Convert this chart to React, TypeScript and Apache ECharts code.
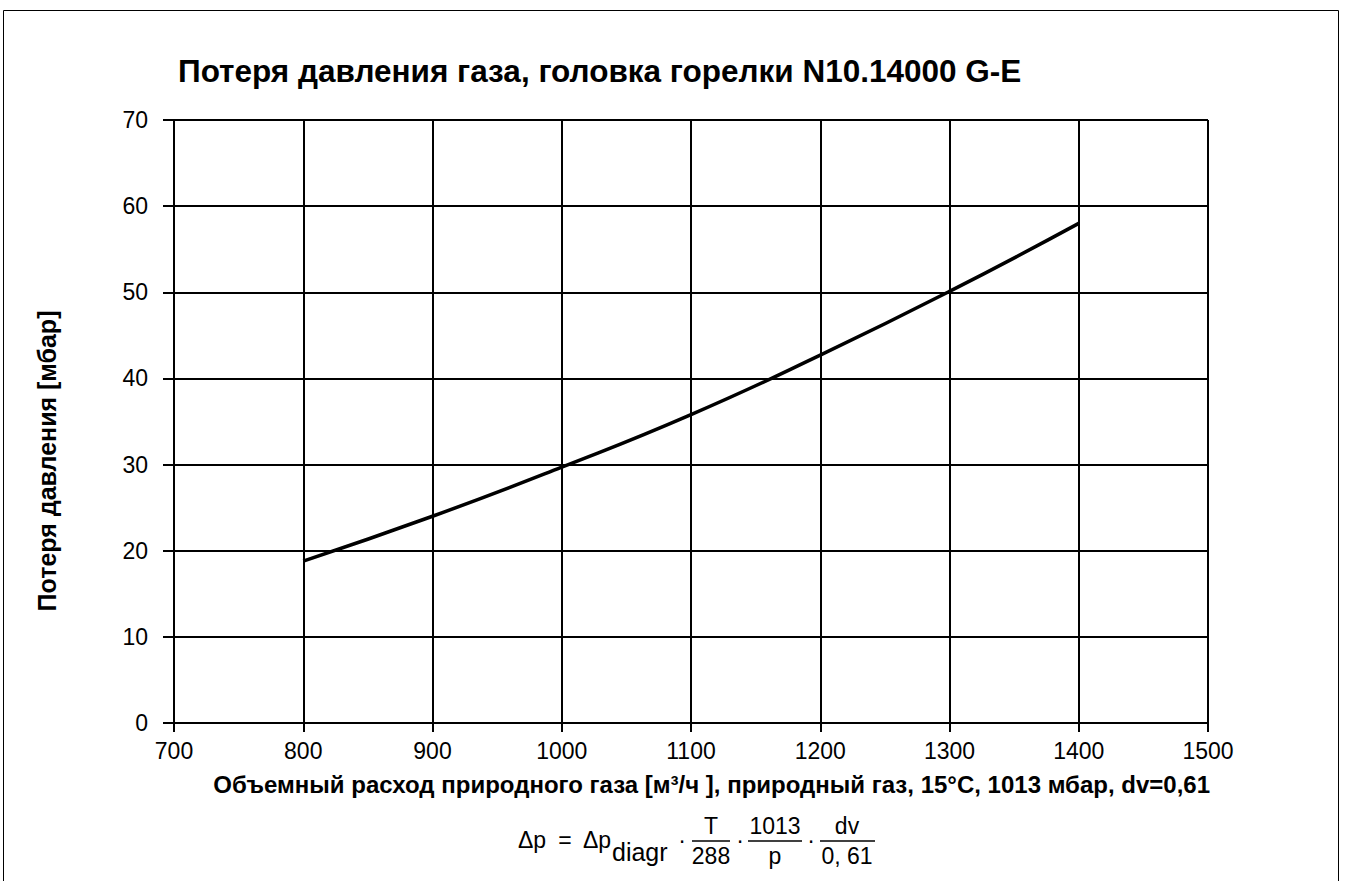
import React, { useEffect, useRef } from "react";
import * as echarts from "echarts";

const flowRates = [800, 900, 1000, 1100, 1200, 1300, 1400];
const pressureLoss = [18.8, 24, 29.7, 35.8, 42.7, 50.1, 58];
const titleText = "Потеря давления газа, головка горелки N10.14000 G-E";
const xAxisTitle = "Объемный расход природного газа [м³/ч ], природный газ, 15°C, 1013 мбар, dv=0,61";
const yAxisTitle = "Потеря давления [мбар]";

const FONT = "'Liberation Sans', Arial, sans-serif";

export default function App() {
  const ref = useRef<HTMLDivElement>(null);
  useEffect(() => {
    const chart = echarts.init(ref.current!, null, { renderer: "svg" });
    const t = (text: string, x: number, y: number, size: number, align = "left", weight = "normal") => ({
      type: "text",
      x,
      y,
      style: { text, fontSize: size, fontFamily: FONT, fontWeight: weight, fill: "#000", align, verticalAlign: "middle" },
    });
    const bar = (x1: number, x2: number, y: number) => ({
      type: "line",
      shape: { x1, y1: y, x2, y2: y },
      style: { stroke: "#000", lineWidth: 1.5 },
    });
    const fs = 23;
    chart.setOption({
      animation: false,
      backgroundColor: "#fff",
      grid: { left: 174, right: 139, top: 120, bottom: 158, containLabel: false },
      xAxis: {
        type: "value",
        min: 700,
        max: 1500,
        interval: 100,
        axisLine: { show: true, lineStyle: { color: "#000", width: 2 } },
        axisTick: { show: true, length: 9, lineStyle: { color: "#000", width: 2 } },
        axisLabel: { color: "#000", fontSize: 23, fontFamily: FONT, margin: 16, formatter: (v: number) => String(v) },
        splitLine: { show: true, lineStyle: { color: "#000", width: 2 } },
      },
      yAxis: {
        type: "value",
        min: 0,
        max: 70,
        interval: 10,
        axisLine: { show: true, lineStyle: { color: "#000", width: 2 } },
        axisTick: { show: true, length: 11, lineStyle: { color: "#000", width: 2 } },
        axisLabel: { color: "#000", fontSize: 23, fontFamily: FONT, margin: 26, formatter: (v: number) => String(v) },
        splitLine: { show: true, lineStyle: { color: "#000", width: 2 } },
      },
      series: [
        {
          type: "line",
          data: flowRates.map((x, i) => [x, pressureLoss[i]]),
          smooth: true,
          showSymbol: false,
          lineStyle: { color: "#000", width: 3.5 },
        },
      ],
      graphic: [
        {
          type: "rect",
          shape: { x: 3.5, y: 10.5, width: 1335, height: 890 },
          style: { fill: "none", stroke: "#000", lineWidth: 1 },
          silent: true,
          z: -1,
        },
        t(titleText, 178, 71, 31.5, "left", "bold"),
        t(xAxisTitle, 1210, 784, 24, "right", "bold"),
        {
          type: "text",
          x: 47,
          y: 461,
          rotation: Math.PI / 2,
          style: { text: yAxisTitle, fontSize: 25, fontFamily: FONT, fontWeight: "bold", fill: "#000", align: "center", verticalAlign: "middle" },
        },
        t("Δp", 518, 840, fs),
        t("=", 565, 840, fs, "center"),
        t("Δp", 583, 840, fs),
        t("diagr", 612, 852, 25),
        t("·", 682, 840, fs, "center"),
        bar(692, 730, 841),
        t("T", 711, 826, fs, "center"),
        t("288", 711, 856, fs, "center"),
        t("·", 740, 840, fs, "center"),
        bar(748, 802, 841),
        t("1013", 775, 826, fs, "center"),
        t("p", 775, 856, fs, "center"),
        t("·", 811, 840, fs, "center"),
        bar(820, 875, 841),
        t("dv", 847, 826, fs, "center"),
        t("0, 61", 847, 856, fs, "center"),
      ],
    });
    return () => chart.dispose();
  }, []);
  return <div ref={ref} style={{ position: "fixed", left: 0, top: 0, width: 1347, height: 881 }} />;
}
